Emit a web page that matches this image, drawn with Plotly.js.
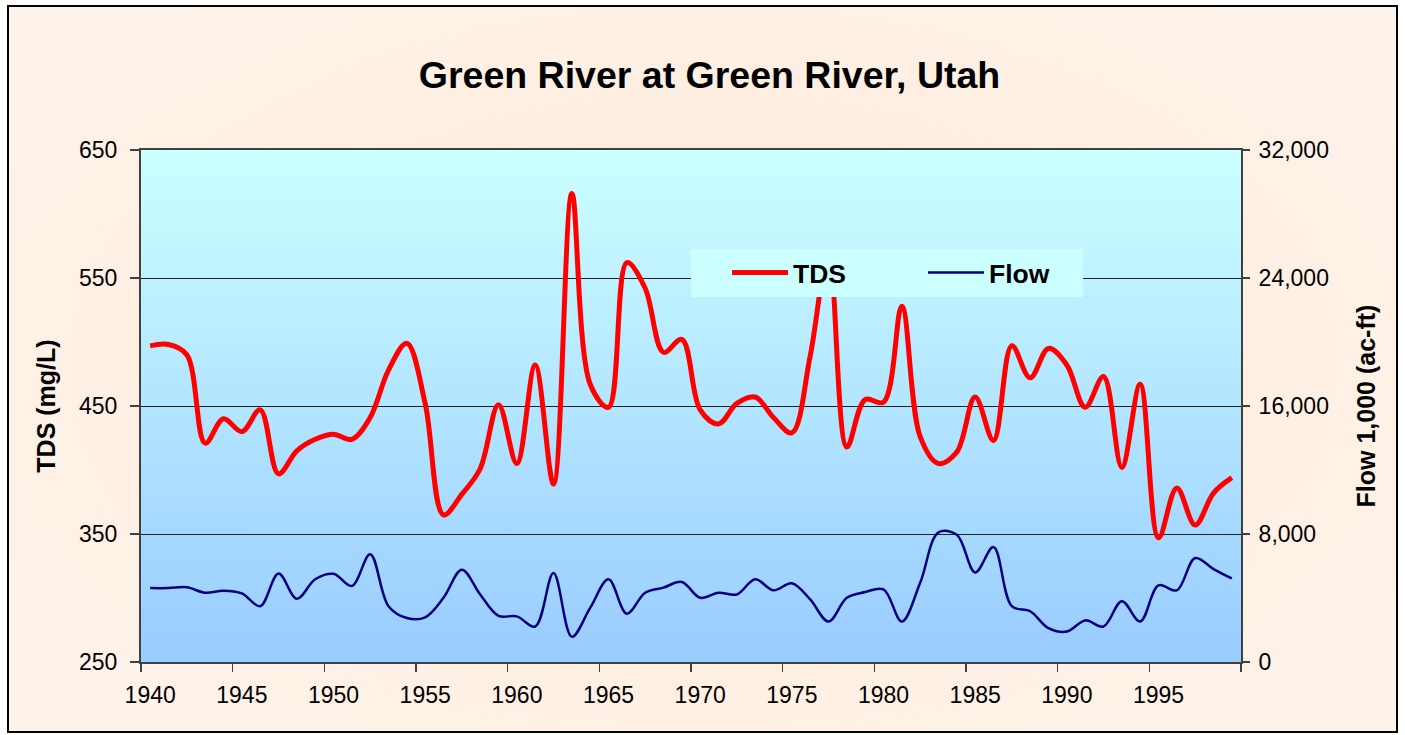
<!DOCTYPE html>
<html>
<head>
<meta charset="utf-8">
<script src="https://cdn.plot.ly/plotly-3.0.1.min.js"></script>
<style>
html, body { margin:0; padding:0; background:#ffffff; }
#wrap { position:relative; width:1405px; height:735px; overflow:hidden; }
#frame { position:absolute; left:7px; top:5px; width:1391px; height:728px; box-sizing:border-box;
  border:2px solid #000;
  background: radial-gradient(ellipse 60% 65% at 50% 50%, #fde4cf 0%, #feeee0 55%, #fef3ea 100%); }
#chart { position:absolute; left:0; top:0; width:1405px; height:735px; }
</style>
</head>
<body>
<div id="wrap"><div id="frame"></div><div id="chart"></div></div>
<script>
// ---- data ----
const years = [1940,1941,1942,1943,1944,1945,1946,1947,1948,1949,
               1950,1951,1952,1953,1954,1955,1956,1957,1958,1959,
               1960,1961,1962,1963,1964,1965,1966,1967,1968,1969,
               1970,1971,1972,1973,1974,1975,1976,1977,1978,1979,
               1980,1981,1982,1983,1984,1985,1986,1987,1988,1989,
               1990,1991,1992,1993,1994,1995,1996,1997,1998,1999];
// TDS (mg/L)
const tds = [497,498,490,421,440,430,447,397,415,424,
             428,424,441,478,499,452,365,381,401,451,
             405,482,389,616,467,449,562,542,492,502,
             447,436,452,457,441,429,489,570,418,455,
             453,528,426,405,414,457,423,497,472,495,
             482,449,473,402,467,347,386,357,382,394];
// Flow (1,000 ac-ft)
const flow = [4620,4620,4670,4330,4460,4290,3490,5530,3950,5170,
              5510,4750,6740,3490,2750,2790,4010,5770,4220,2890,
              2850,2220,5560,1580,3380,5170,3020,4330,4650,5000,
              4010,4330,4220,5170,4480,4920,3910,2530,4010,4370,
              4540,2530,4950,8100,7950,5600,7180,3490,3170,2110,
              1900,2600,2220,3800,2530,4790,4480,6500,5810,5220];
const xLabelYears = [1940,1945,1950,1955,1960,1965,1970,1975,1980,1985,1990,1995];
const tdsTicks = [250,350,450,550,650];
const flowTicks = [0,8000,16000,24000,32000];
const titleText = 'Green River at Green River, Utah';

// ---- style ----
const FONT = 'Liberation Sans, Arial, Helvetica, sans-serif';
const gradSvg = '<svg xmlns="http://www.w3.org/2000/svg" width="100" height="100" preserveAspectRatio="none">' +
  '<defs><linearGradient id="g" x1="0" y1="0" x2="0" y2="1">' +
  '<stop offset="0" stop-color="#ccffff"/><stop offset="1" stop-color="#99ccff"/>' +
  '</linearGradient></defs><rect width="100" height="100" fill="url(#g)"/></svg>';
const gradUri = 'data:image/svg+xml;charset=utf-8,' + encodeURIComponent(gradSvg);

const traces = [
  { x: years, y: tds, name: 'TDS', type: 'scatter', mode: 'lines', yaxis: 'y',
    line: { color: '#ff0000', width: 5, shape: 'spline', smoothing: 1 } },
  { x: years, y: flow, name: 'Flow', type: 'scatter', mode: 'lines', yaxis: 'y2',
    line: { color: '#000080', width: 2.5, shape: 'spline', smoothing: 1 } }
];

const layout = {
  width: 1405, height: 735,
  margin: { l: 141, r: 164, t: 150, b: 73, pad: 0 },
  paper_bgcolor: 'rgba(0,0,0,0)',
  plot_bgcolor: 'rgba(0,0,0,0)',
  font: { family: FONT, color: '#000', size: 23 },
  title: { text: titleText, x: 0.505, xref: 'container', y: 1 - 75/735, yref: 'container',
           xanchor: 'center', yanchor: 'middle',
           font: { family: FONT, size: 37.5, weight: 'bold', color: '#000' } },
  showlegend: true,
  legend: { orientation: 'h', x: 0.5, xanchor: 'left', y: 0.807, yanchor: 'top',
            bgcolor: '#ccffff', borderwidth: 0,
            font: { family: FONT, size: 26.5, weight: 'bold', color: '#000' },
            indentation: 36, entrywidth: 89, entrywidthmode: 'pixels', itemwidth: 56 },
  xaxis: {
    range: [1939.5, 1999.5], tickmode: 'array', tickvals: xLabelYears,
    ticktext: xLabelYears.map(String), ticks: '', showgrid: false, zeroline: false,
    showline: true, linecolor: '#404040', linewidth: 2, mirror: true,
    ticklabelstandoff: 11, tickfont: { family: FONT, size: 23, color: '#000' },
    minor: { tickmode: 'array', tickvals: xLabelYears.map(y => y - 0.5).concat([1999.5]),
             ticks: 'outside', ticklen: 8, tickcolor: '#404040', tickwidth: 1.5, showgrid: false }
  },
  yaxis: {
    range: [250, 650], tickmode: 'array', tickvals: tdsTicks, ticks: 'outside', ticklen: 9,
    tickcolor: '#404040', tickwidth: 1.5, showgrid: true, gridcolor: '#222', gridwidth: 1,
    zeroline: false, showline: true, linecolor: '#404040', linewidth: 2,
    ticklabelstandoff: 8, tickfont: { family: FONT, size: 23, color: '#000' },
    title: { text: 'TDS (mg/L)', standoff: 16, font: { family: FONT, size: 25, weight: 'bold', color: '#000' } }
  },
  yaxis2: {
    overlaying: 'y', side: 'right', range: [0, 32000], tickmode: 'array', tickvals: flowTicks,
    tickformat: ',d', ticks: 'outside', ticklen: 7, tickcolor: '#404040', tickwidth: 1.5,
    showgrid: false, zeroline: false, showline: true, linecolor: '#404040', linewidth: 2,
    ticklabelstandoff: 4, tickfont: { family: FONT, size: 23, color: '#000' },
    title: { text: 'Flow 1,000 (ac-ft)', standoff: 30, font: { family: FONT, size: 25, weight: 'bold', color: '#000' } }
  },
  images: [{ source: gradUri, xref: 'paper', yref: 'paper', x: 0, y: 1, sizex: 1, sizey: 1,
             xanchor: 'left', yanchor: 'top', sizing: 'stretch', layer: 'below' }]
};

Plotly.newPlot('chart', traces, layout, { displayModeBar: false, staticPlot: true });
</script>
</body>
</html>
